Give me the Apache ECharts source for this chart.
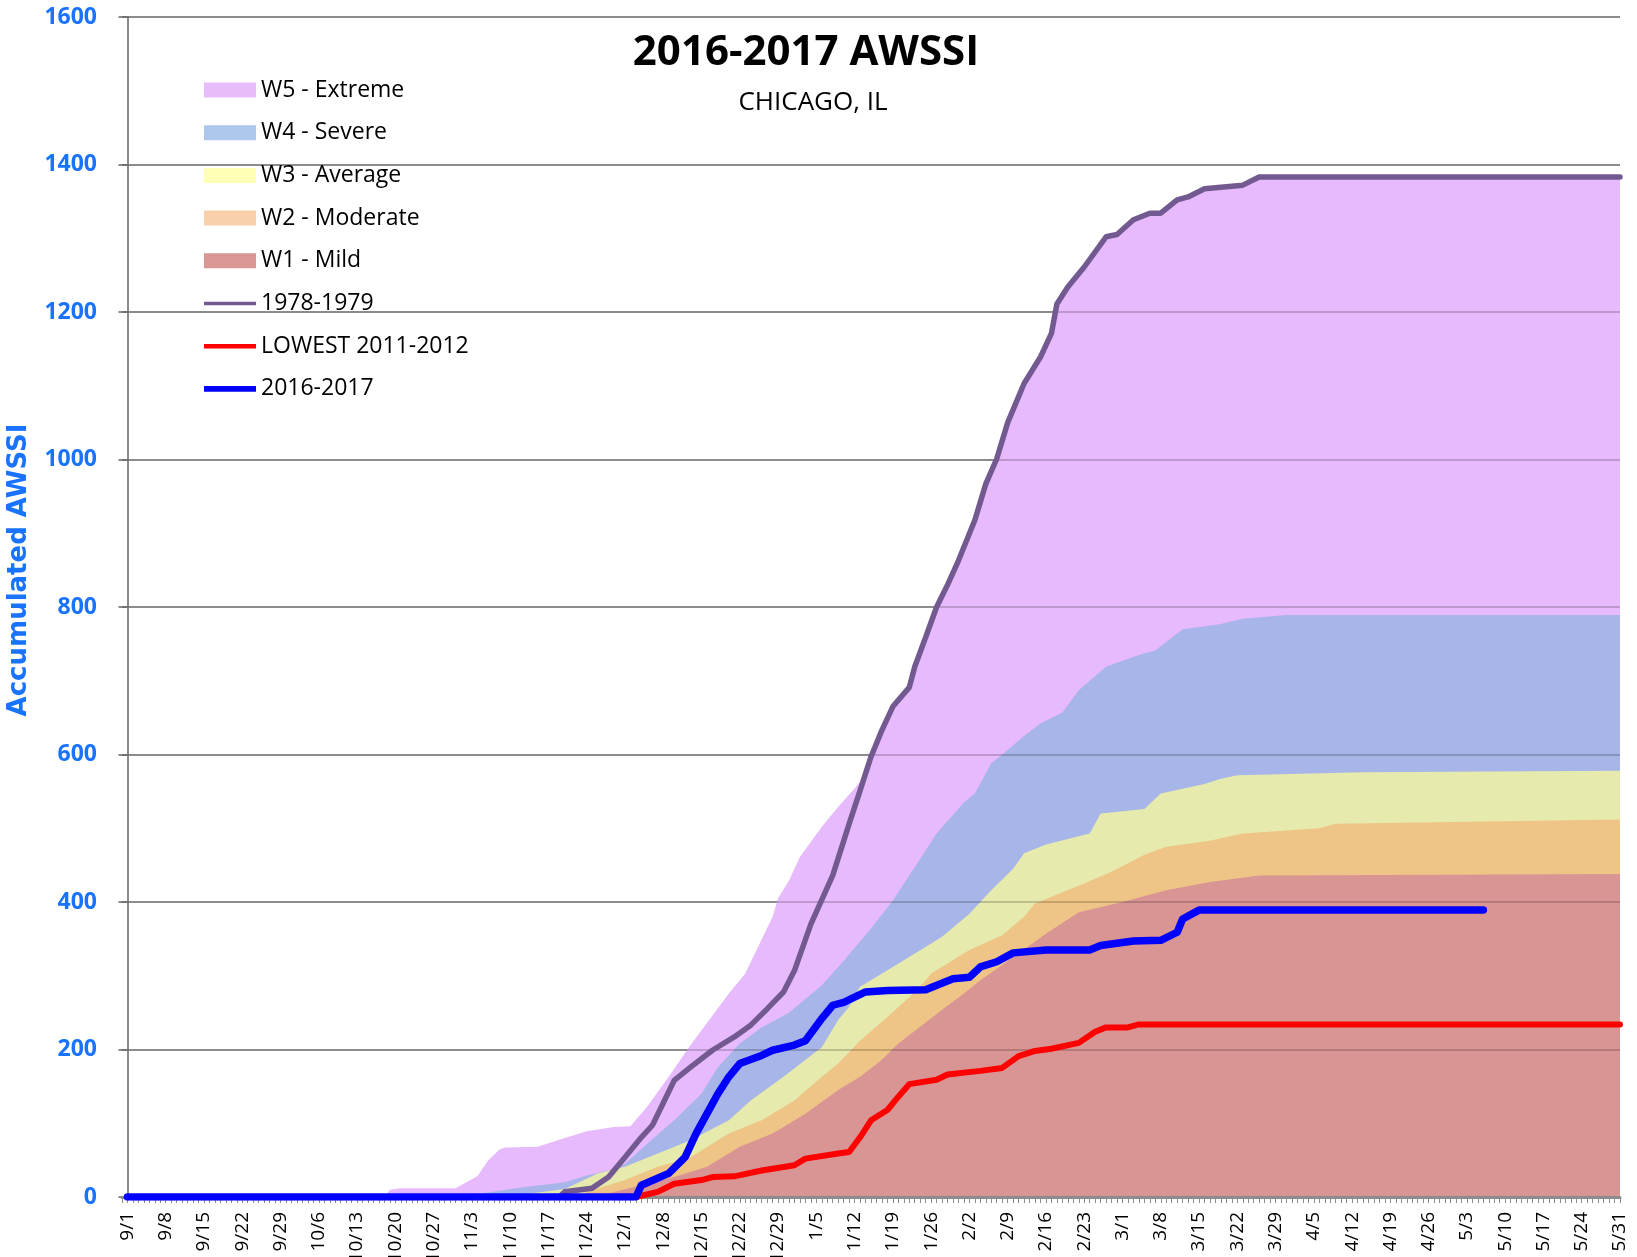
<!DOCTYPE html>
<html>
<head>
<meta charset="utf-8">
<title>2016-2017 AWSSI</title>
<script src="https://cdn.jsdelivr.net/npm/echarts@6/dist/echarts.min.js"></script>
<style>
    html, body { margin: 0; padding: 0; background: #fff; }
    #chart { width: 1637px; height: 1257px; }
</style>
</head>
<body>
<div id="chart"></div>
<script>
// day labels 9/1 .. 5/31 (AWSSI season template includes 2/29)
const months = [[9, 30], [10, 31], [11, 30], [12, 31], [1, 31], [2, 29], [3, 31], [4, 30], [5, 31]];
const dates = [];
months.forEach(([m, n]) => {
    for (let d = 1; d <= n; d++) dates.push(m + "/" + d);
});

// === threshold curves (top of each band), [date, accumulated AWSSI] ===
const w5Extreme = [
    ["9/1", 0], ["10/18", 0], ["10/19", 10], ["10/21", 12], ["10/31", 12], ["11/2", 20],
    ["11/4", 28], ["11/6", 50], ["11/8", 64], ["11/9", 67], ["11/15", 68], ["11/20", 80],
    ["11/24", 89], ["11/29", 95], ["12/2", 96], ["12/5", 122], ["12/9", 163], ["12/13", 206],
    ["12/20", 276], ["12/23", 303], ["12/28", 380], ["12/29", 405], ["12/31", 429], ["1/2", 461],
    ["1/6", 502], ["1/9", 529], ["1/12", 554], ["1/13", 563], ["1/15", 597], ["1/17", 633],
    ["1/19", 665], ["1/22", 691], ["1/23", 719], ["1/25", 759], ["1/27", 800], ["1/29", 830],
    ["1/31", 863], ["2/3", 918], ["2/5", 967], ["2/7", 1001], ["2/9", 1050], ["2/12", 1103],
    ["2/15", 1139], ["2/17", 1171], ["2/18", 1211], ["2/20", 1234], ["2/23", 1261], ["2/27", 1302],
    ["2/29", 1305], ["3/3", 1325], ["3/6", 1334], ["3/8", 1334], ["3/11", 1352], ["3/13", 1356],
    ["3/16", 1367], ["3/19", 1369], ["3/23", 1372], ["3/26", 1383], ["5/31", 1383],
];
const w4Severe = [
    ["9/1", 0], ["10/19", 0], ["10/20", 2], ["11/1", 3], ["11/6", 6], ["11/12", 13],
    ["11/20", 20], ["11/24", 29], ["11/28", 36], ["12/1", 45], ["12/5", 72], ["12/10", 104],
    ["12/15", 140], ["12/18", 176], ["12/22", 208], ["12/26", 230], ["12/31", 250], ["1/6", 287],
    ["1/10", 320], ["1/15", 364], ["1/19", 402], ["1/23", 447], ["1/27", 493], ["2/1", 535],
    ["2/3", 547], ["2/6", 588], ["2/8", 600], ["2/12", 625], ["2/15", 642], ["2/19", 657],
    ["2/22", 687], ["2/27", 719], ["3/4", 735], ["3/7", 741], ["3/12", 770], ["3/19", 777],
    ["3/23", 784], ["3/31", 789], ["5/31", 789],
];
const w3Average = [
    ["9/1", 0], ["11/11", 0], ["11/12", 3], ["11/20", 11], ["11/26", 32], ["12/1", 41],
    ["12/7", 59], ["12/13", 77], ["12/20", 104], ["12/24", 131], ["12/30", 163], ["1/6", 203],
    ["1/9", 240], ["1/11", 258], ["1/13", 285], ["1/19", 312], ["1/28", 353], ["2/2", 384],
    ["2/6", 416], ["2/10", 445], ["2/12", 466], ["2/16", 478], ["2/22", 489], ["2/24", 493],
    ["2/26", 520], ["3/5", 526], ["3/8", 547], ["3/16", 560], ["3/19", 567], ["3/22", 572],
    ["4/14", 576], ["5/31", 578],
];
const w2Moderate = [
    ["9/1", 0], ["11/23", 0], ["11/24", 7], ["12/1", 23], ["12/7", 41], ["12/13", 54],
    ["12/20", 86], ["12/26", 104], ["1/1", 131], ["1/6", 163], ["1/9", 181], ["1/13", 212],
    ["1/18", 244], ["1/22", 271], ["1/25", 294], ["1/26", 303], ["2/2", 335], ["2/8", 355],
    ["2/12", 380], ["2/14", 398], ["2/17", 407], ["2/22", 422], ["2/28", 441], ["3/5", 464],
    ["3/9", 475], ["3/17", 483], ["3/23", 493], ["4/6", 500], ["4/9", 506], ["5/31", 512],
];
const w1Mild = [
    ["9/1", 0], ["11/26", 0], ["11/27", 3], ["12/4", 16], ["12/10", 27], ["12/16", 41],
    ["12/22", 68], ["12/28", 86], ["1/3", 113], ["1/9", 145], ["1/13", 163], ["1/17", 186],
    ["1/20", 208], ["1/24", 231], ["1/28", 254], ["2/1", 276], ["2/4", 294], ["2/10", 325],
    ["2/16", 357], ["2/22", 386], ["3/1", 400], ["3/9", 416], ["3/17", 427], ["3/26", 436],
    ["5/31", 438],
];

// === seasons drawn as lines ===
const season1978 = [
    ["9/1", 0], ["11/19", 0], ["11/20", 7], ["11/25", 12], ["11/28", 27], ["12/1", 54],
    ["12/4", 81], ["12/6", 97], ["12/10", 158], ["12/13", 176], ["12/17", 199], ["12/21", 217],
    ["12/24", 233], ["12/27", 255], ["12/30", 278], ["1/1", 307], ["1/4", 370], ["1/8", 436],
    ["1/11", 506], ["1/13", 551], ["1/15", 597], ["1/17", 633], ["1/19", 665], ["1/22", 691],
    ["1/23", 719], ["1/25", 759], ["1/27", 800], ["1/29", 830], ["1/31", 863], ["2/3", 918],
    ["2/5", 967], ["2/7", 1001], ["2/9", 1050], ["2/12", 1103], ["2/15", 1139], ["2/17", 1171],
    ["2/18", 1211], ["2/20", 1234], ["2/23", 1261], ["2/27", 1302], ["2/29", 1305], ["3/3", 1325],
    ["3/6", 1334], ["3/8", 1334], ["3/11", 1352], ["3/13", 1356], ["3/16", 1367], ["3/19", 1369],
    ["3/23", 1372], ["3/26", 1383], ["5/31", 1383],
];
const lowest2011 = [
    ["9/1", 0], ["12/3", 0], ["12/7", 7], ["12/10", 18], ["12/15", 23], ["12/17", 27],
    ["12/21", 28], ["12/26", 36], ["1/1", 43], ["1/3", 52], ["1/9", 59], ["1/11", 61],
    ["1/13", 81], ["1/15", 104], ["1/18", 118], ["1/20", 136], ["1/22", 153], ["1/27", 159],
    ["1/29", 166], ["2/4", 171], ["2/8", 175], ["2/11", 191], ["2/14", 198], ["2/17", 201],
    ["2/22", 209], ["2/25", 224], ["2/27", 230], ["3/2", 230], ["3/4", 234], ["5/31", 234],
];
const season2016 = [
    ["9/1", 0], ["12/3", 0], ["12/4", 16], ["12/9", 32], ["12/12", 54], ["12/14", 86],
    ["12/16", 113], ["12/18", 140], ["12/20", 163], ["12/22", 181], ["12/26", 192], ["12/28", 199],
    ["1/1", 206], ["1/3", 212], ["1/6", 242], ["1/8", 260], ["1/10", 264], ["1/14", 278],
    ["1/18", 280], ["1/25", 281], ["1/30", 296], ["2/2", 298], ["2/4", 312], ["2/7", 319],
    ["2/10", 331], ["2/16", 335], ["2/24", 335], ["2/26", 341], ["3/3", 347], ["3/8", 348],
    ["3/11", 359], ["3/12", 377], ["3/15", 389], ["5/6", 389],
];

const toPoints = (arr) => arr.map(([d, v]) => [dates.indexOf(d), v]);

const FONT = "Open Sans";
const BLUE_TEXT = "#1A73FF";

// thin bar icon inside the 52x15 legend box (the extra moves pin the box size)
const barIcon = (h) =>
    "path://M0,0M56,15M0," + (7.5 - h / 2) + "L56," + (7.5 - h / 2) +
    "L56," + (7.5 + h / 2) + "L0," + (7.5 + h / 2) + "Z";

const bands = [
    { name: "W5 - Extreme", data: w5Extreme, fill: "#E6BAFC", legend: "#E6BCFA" },
    { name: "W4 - Severe", data: w4Severe, fill: "#A8B5E8", legend: "#ADC8EC" },
    { name: "W3 - Average", data: w3Average, fill: "#E6EAAD", legend: "#FFFFB5" },
    { name: "W2 - Moderate", data: w2Moderate, fill: "#EEC586", legend: "#F9D0AC" },
    { name: "W1 - Mild", data: w1Mild, fill: "#D99594", legend: "#D99694" },
];
const lines = [
    { name: "1978-1979", data: season1978, color: "#725A91", width: 5.5, icon: 4 },
    { name: "LOWEST 2011-2012", data: lowest2011, color: "#FF0000", width: 6, icon: 5 },
    { name: "2016-2017", data: season2016, color: "#0000FF", width: 7.5, icon: 6 },
];

const chart = echarts.init(document.getElementById("chart"));

const yBase = {
    type: "value",
    min: 0,
    max: 1600,
    interval: 200,
};

const option = {
    animation: false,
    title: [
        {
            text: "2016-2017 AWSSI",
            left: 801,
            top: 25,
            textAlign: "center",
            textStyle: { fontFamily: FONT, fontSize: 42, fontWeight: "bold", color: "#000", lineHeight: 46 },
        },
        {
            text: "CHICAGO, IL",
            left: 808,
            top: 84,
            textAlign: "center",
            textStyle: { fontFamily: FONT, fontSize: 26, fontWeight: "normal", color: "#000", lineHeight: 28 },
        },
    ],
    graphic: [
        {
            // axis title sits a little above the plot's middle, as in the original
            type: "text",
            x: 19,
            y: 570,
            rotation: Math.PI / 2,
            style: {
                text: "Accumulated AWSSI",
                font: "bold 26px 'DejaVu Sans'",
                fill: BLUE_TEXT,
                align: "center",
                verticalAlign: "middle",
            },
        },
    ],
    legend: {
        orient: "vertical",
        left: 204,
        top: 78,
        padding: 0,
        itemWidth: 52,
        itemHeight: 15,
        itemGap: 18.7,
        selectedMode: false,
        textStyle: { fontFamily: FONT, fontSize: 23, color: "#000", lineHeight: 24 },
        data: bands
            .map((b) => ({ name: b.name, icon: "rect", itemStyle: { color: b.legend } }))
            .concat(lines.map((l) => ({ name: l.name, icon: barIcon(l.icon), itemStyle: { color: l.color } }))),
    },
    grid: { left: 122, right: 17, top: 17, bottom: 60, outerBoundsMode: "none", containLabel: false },
    xAxis: {
        type: "value",
        min: -1,
        max: 273,
        interval: 1,
        z: 3,
        axisLine: { show: true, onZero: false, lineStyle: { color: "#8c8c8c", width: 3 } },
        axisTick: { show: true, length: 6, lineStyle: { color: "#8c8c8c", width: 1 } },
        splitLine: { show: false },
        axisLabel: {
            rotate: 90,
            margin: 15,
            fontFamily: FONT,
            fontSize: 19,
            color: "#000",
            showMinLabel: true,
            showMaxLabel: true,
            formatter: (v) => (v >= 0 && v % 7 === 0 ? dates[v] : ""),
        },
    },
    yAxis: [
        {
            ...yBase,
            axisLine: { show: true, lineStyle: { color: "#8c8c8c", width: 2 } },
            axisTick: { show: true, inside: false, length: 9, lineStyle: { color: "#8c8c8c", width: 2 } },
            axisLabel: {
                margin: 25,
                fontFamily: FONT,
                fontSize: 23,
                fontWeight: "bold",
                color: BLUE_TEXT,
                formatter: (v) => String(v),
            },
            splitLine: { show: true, lineStyle: { color: "#ababab", width: 2 } },
        },
        {
            // faint copy of the grid lines that shows through the filled bands
            ...yBase,
            z: 3,
            axisLine: { show: false },
            axisTick: { show: false },
            axisLabel: { show: false },
            splitLine: { show: true, lineStyle: { color: "rgba(0,0,0,0.18)", width: 2 } },
        },
    ],
    series: bands
        .map((b) => ({
            name: b.name,
            type: "line",
            data: toPoints(b.data),
            symbol: "none",
            z: 2,
            lineStyle: { width: 0 },
            itemStyle: { color: b.fill },
            areaStyle: { color: b.fill, opacity: 1 },
            emphasis: { disabled: true },
        }))
        .concat(
            lines.map((l) => ({
                name: l.name,
                type: "line",
                data: toPoints(l.data),
                symbol: "none",
                z: 4,
                itemStyle: { color: l.color },
                lineStyle: { color: l.color, width: l.width, cap: "round", join: "round" },
                emphasis: { disabled: true },
            }))
        ),
};

chart.setOption(option);
</script>
</body>
</html>
